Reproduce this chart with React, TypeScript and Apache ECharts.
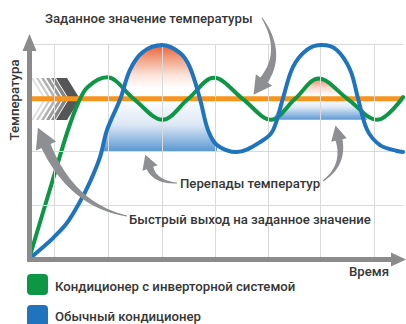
import React, { useEffect, useRef } from "react";
import * as echarts from "echarts";

// ---- data (time in grid cells, temperature in grid cells) ----
const SETPOINT = 2.98;
const BLUE_LOW = 1.99;
const GREEN_LOW = 2.59;
const TIME_RANGE = [0, 7];
const TEMP_RANGE = [0, 4.2];
const GRID_T = [0.47, 1.48, 2.49, 3.48, 4.47, 5.46, 6.47];
const GRID_V = [1, 2, 4];

const GREEN: number[][] = [
  [0, 0], [0.49, 1.62], [0.73, 2.4], [0.92, 2.9], [1.1, 3.2], [1.46, 3.38],
  [1.96, 2.98], [2.5, 2.59], [2.98, 2.98], [3.46, 3.37], [4.0, 2.98],
  [4.53, 2.59], [4.98, 2.98], [5.42, 3.36], [5.96, 2.98], [6.52, 2.59], [7.0, 3.01],
];

const BLUE: number[][] = [
  [0, 0], [0.26, 0.22], [0.45, 0.39], [0.71, 0.67], [0.95, 1.06], [1.14, 1.43],
  [1.33, 1.9], [1.46, 2.4], [1.71, 2.98], [1.89, 3.52], [2.13, 3.85], [2.49, 3.98],
  [2.83, 3.83], [3.01, 3.57], [3.2, 2.98], [3.35, 2.4], [3.52, 2.12], [3.89, 1.99],
  [4.38, 2.21], [4.57, 2.4], [4.75, 2.98], [4.94, 3.57], [5.2, 3.89], [5.48, 3.98],
  [5.76, 3.89], [6.01, 3.52], [6.16, 2.98], [6.33, 2.4], [6.57, 2.12], [6.89, 2.01], [7.0, 1.99],
];

const TITLE = "Заданное значение температуры";
const Y_NAME = "Температура";
const X_NAME = "Время";
const NOTE_SWINGS = "Перепады температур";
const NOTE_FAST = "Быстрый выход на заданное значение";
const LEGEND = ["Кондиционер с инверторной системой", "Обычный кондиционер"];

const GREEN_C = "#0e9647";
const BLUE_C = "#1f74bd";
const ORANGE_C = "#f7941d";
const GRAY_C = "#8e8f92";
const AXIS_C = "#8b8b8b";
const TEXT_C = "#363636";
const FONT = "Roboto, 'Noto Sans', sans-serif";
const SMOOTH = 0.35;

function swoosh(p0: number[], c: number[], p1: number[], w0: number, w1: number, headLen: number, headHalf: number) {
  const n = 20;
  const left: number[][] = [];
  const right: number[][] = [];
  for (let i = 0; i <= n; i++) {
    const s = i / n;
    const x = (1 - s) * (1 - s) * p0[0] + 2 * (1 - s) * s * c[0] + s * s * p1[0];
    const y = (1 - s) * (1 - s) * p0[1] + 2 * (1 - s) * s * c[1] + s * s * p1[1];
    const dx = 2 * (1 - s) * (c[0] - p0[0]) + 2 * s * (p1[0] - c[0]);
    const dy = 2 * (1 - s) * (c[1] - p0[1]) + 2 * s * (p1[1] - c[1]);
    const l = Math.hypot(dx, dy) || 1;
    const nx = -dy / l, ny = dx / l;
    const w = (w0 + (w1 - w0) * s) / 2;
    left.push([x + nx * w, y + ny * w]);
    right.push([x - nx * w, y - ny * w]);
  }
  const dx = p1[0] - c[0], dy = p1[1] - c[1];
  const l = Math.hypot(dx, dy);
  const ux = dx / l, uy = dy / l;
  const nx = -uy, ny = ux;
  const tip = [p1[0] + ux * headLen, p1[1] + uy * headLen];
  const pts = [
    ...left,
    [p1[0] + nx * headHalf, p1[1] + ny * headHalf],
    tip,
    [p1[0] - nx * headHalf, p1[1] - ny * headHalf],
    ...right.reverse(),
  ];
  return { type: "polygon", z: 7, shape: { points: pts }, style: { fill: GRAY_C } };
}

function chevron(xl: number, w: number, color: string) {
  const top = 78, mid = 99, bot = 120, d = 13;
  return {
    type: "polygon",
    z: 1,
    shape: { points: [[xl, top], [xl + w, top], [xl + w + d, mid], [xl + w, bot], [xl, bot], [xl + d, mid]] },
    style: { fill: color },
  };
}

function txt(text: string, x: number, y: number, extra: any = {}) {
  return {
    type: "text",
    z: 8,
    x,
    y,
    style: {
      text,
      fill: TEXT_C,
      font: `500 13.2px ${FONT}`,
      textVerticalAlign: "middle",
      textAlign: "left",
      ...extra,
    },
  };
}

const vGrad = (stops: [number, string][]) => ({
  type: "linear",
  x: 0,
  y: 0,
  x2: 0,
  y2: 1,
  colorStops: stops.map(([offset, color]) => ({ offset, color })),
});

export default function App() {
  const ref = useRef<HTMLDivElement>(null);
  useEffect(() => {
    if (!ref.current) return;
    const chart = echarts.init(ref.current, undefined, { renderer: "svg" });

    const redFill1 = BLUE.filter(([t]) => t >= 1.71 && t <= 3.2);
    const blueFill1 = BLUE.filter(([t]) => t >= 1.33 && t <= 3.52).map(([t, v]) => [t, Math.min(v, SETPOINT)]);
    const redFill2 = GREEN.filter(([t]) => t >= 4.98 && t <= 5.96);
    const blueFill2 = BLUE.filter(([t]) => t >= 4.57 && t <= 6.33).map(([t, v]) => [t, Math.max(Math.min(v, SETPOINT), GREEN_LOW)]);

    const gridLines: any[] = [
      ...GRID_T.map((t) => [{ coord: [t, TEMP_RANGE[0]] }, { coord: [t, GRID_V[GRID_V.length - 1]] }]),
      ...GRID_V.map((v) => [{ coord: [TIME_RANGE[0], v] }, { coord: [TIME_RANGE[1], v] }]),
    ];

    const stripeColors = ["#dedede", "#c8c8c8", "#b2b2b2", "#9b9b9b", "#858585"];
    const chevrons = [
      ...stripeColors.map((c, i) => chevron(31 + i * 5, 2 + i * 0.5, c)),
      chevron(56, 11, "#555658"),
    ];

    chart.setOption({
      animation: false,
      backgroundColor: "#ffffff",
      grid: { left: 29, right: 3, top: 33.25, bottom: 65 },
      xAxis: { type: "value", min: TIME_RANGE[0], max: TIME_RANGE[1], show: false },
      yAxis: { type: "value", min: TEMP_RANGE[0], max: TEMP_RANGE[1], show: false },
      series: [
        {
          type: "line",
          z: 0,
          data: [],
          silent: true,
          markLine: {
            silent: true,
            symbol: ["none", "none"],
            label: { show: false },
            lineStyle: { color: "#d9d9d9", width: 1, type: "solid" },
            data: gridLines,
          },
        },
        {
          type: "line", z: 1, data: blueFill1, smooth: false, symbol: "none", silent: true,
          lineStyle: { width: 0 },
          areaStyle: { origin: BLUE_LOW, opacity: 1, color: vGrad([[0, "#ffffff"], [0.45, "#dce7f5"], [1, "#3f87cb"]]) },
        },
        {
          type: "line", z: 1, data: blueFill2, smooth: false, symbol: "none", silent: true,
          lineStyle: { width: 0 },
          areaStyle: { origin: GREEN_LOW, opacity: 1, color: vGrad([[0, "#ffffff"], [0.4, "#dfe9f6"], [1, "#5d9ad6"]]) },
        },
        {
          type: "line", z: 1, data: redFill1, smooth: SMOOTH, symbol: "none", silent: true,
          lineStyle: { width: 0 },
          areaStyle: { origin: SETPOINT, opacity: 1, color: vGrad([[0, "#e85f38"], [0.25, "#f29f82"], [0.55, "#fbe1d7"], [0.8, "#ffffff"], [1, "#ffffff"]]) },
        },
        {
          type: "line", z: 1, data: redFill2, smooth: SMOOTH, symbol: "none", silent: true,
          lineStyle: { width: 0 },
          areaStyle: { origin: SETPOINT, opacity: 1, color: vGrad([[0, "#ef8463"], [0.45, "#fbd8cb"], [0.85, "#ffffff"], [1, "#ffffff"]]) },
        },
        {
          type: "line", z: 3, data: [[TIME_RANGE[0], SETPOINT], [TIME_RANGE[1], SETPOINT]], symbol: "none", silent: true,
          lineStyle: { color: ORANGE_C, width: 5 },
        },
        {
          type: "line", z: 4, data: GREEN, smooth: SMOOTH, symbol: "none", silent: true,
          lineStyle: { color: GREEN_C, width: 4, cap: "round" },
        },
        {
          type: "line", z: 5, data: BLUE, smooth: SMOOTH, symbol: "none", silent: true,
          lineStyle: { color: BLUE_C, width: 4, cap: "round" },
        },
      ],
      graphic: [
        ...chevrons,
        // axes
        { type: "rect", z: 6, shape: { x: 27, y: 48, width: 5, height: 214 }, style: { fill: AXIS_C } },
        { type: "polygon", z: 6, shape: { points: [[29.5, 34], [22.5, 51], [36.5, 51]] }, style: { fill: AXIS_C } },
        { type: "rect", z: 6, shape: { x: 27, y: 257, width: 368, height: 5 }, style: { fill: AXIS_C } },
        { type: "polygon", z: 6, shape: { points: [[406, 259.5], [391, 252.5], [391, 266.5]] }, style: { fill: AXIS_C } },
        // arrows
        swoosh([262, 18], [284, 52], [264, 80], 1, 9, 18, 10),
        swoosh([177, 183], [155, 182], [150, 168], 1, 7, 14, 8),
        swoosh([323, 181], [345, 165], [339, 140], 1, 7, 15, 8),
        swoosh([127, 216], [72, 205], [46, 146], 1, 10, 20, 11),
        // texts
        txt(TITLE, 45, 18),
        { ...txt(Y_NAME, 14, 100, { textAlign: "center" }), rotation: Math.PI / 2 },
        txt(NOTE_SWINGS, 180, 183),
        txt(NOTE_FAST, 129, 219),
        txt(X_NAME, 349, 271),
        // legend
        { type: "rect", z: 8, shape: { x: 27, y: 274, width: 21, height: 21, r: 4 }, style: { fill: GREEN_C } },
        txt(LEGEND[0], 55, 286),
        { type: "rect", z: 8, shape: { x: 27, y: 305, width: 21, height: 19, r: [4, 4, 0, 0] }, style: { fill: BLUE_C } },
        txt(LEGEND[1], 55, 316),
      ],
    });
    return () => chart.dispose();
  }, []);
  return <div ref={ref} style={{ position: "absolute", left: 0, top: 0, width: 406, height: 324 }} />;
}
